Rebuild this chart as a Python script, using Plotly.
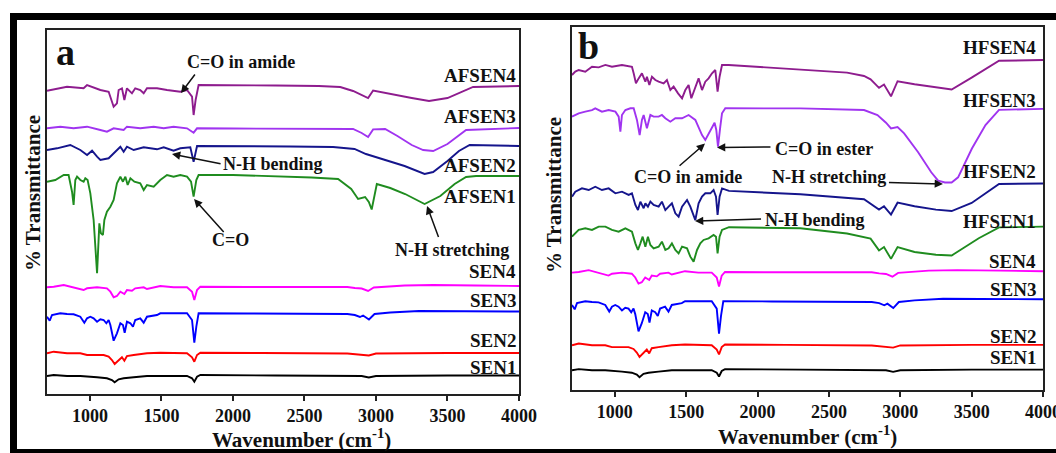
import plotly.graph_objects as go

W, H = 1056, 453

# ---------------- data: panel a (AF series) ----------------
AFSEN4_wn = [700, 840, 956, 980, 1073, 1131, 1166, 1189, 1201, 1224, 1241, 1259, 1294, 1317, 1352, 1376, 1399, 1469, 1539, 1632, 1679, 1714, 1725, 1739, 1760, 2000, 2300, 2600, 2750, 2840, 2900, 2945, 2980, 3100, 3250, 3371, 3500, 3679, 4000]
AFSEN4_t = [303.3, 307.3, 305.7, 309, 304, 302.3, 287.3, 290.7, 304, 305.7, 294, 305.7, 300.7, 305.7, 304, 300.7, 305.7, 305.7, 304, 302.3, 304, 297.3, 279, 294, 309, 309, 308.5, 308, 307, 303, 299, 296, 303.5, 300, 296, 293, 296, 307, 308]

AFSEN3_wn = [700, 793, 886, 980, 1073, 1119, 1166, 1236, 1259, 1352, 1446, 1516, 1585, 1679, 1725, 1749, 2000, 2400, 2750, 2840, 2900, 2945, 2980, 3064, 3150, 3250, 3330, 3400, 3500, 3630, 4000]
AFSEN3_t = [265.7, 267.3, 265.7, 267.3, 264, 262.3, 265.7, 264, 267.3, 265.7, 267.3, 265.7, 267.3, 265.7, 261.3, 265.7, 265.5, 265, 264.5, 265, 261, 257, 264.6, 265, 258, 249, 244, 243, 250, 264, 266]

AFSEN2_wn = [700, 770, 863, 933, 980, 1015, 1050, 1073, 1131, 1189, 1213, 1236, 1259, 1306, 1376, 1469, 1516, 1585, 1632, 1702, 1725, 1749, 2000, 2400, 2700, 2850, 2930, 3000, 3100, 3200, 3340, 3400, 3500, 3580, 3655, 4000]
AFSEN2_t = [244, 245.7, 249, 244, 239, 243.3, 237.3, 234, 235.7, 244, 247.3, 242.3, 247.3, 244, 246.7, 244.7, 246.7, 243.3, 245.7, 246.7, 232.3, 248, 248, 247.5, 247, 245, 240, 237, 233, 228, 220, 222, 233, 243, 249, 248]

AFSEN1_wn = [700, 758, 817, 851, 875, 886, 898, 910, 933, 956, 968, 984, 1003, 1026, 1050, 1066, 1077, 1091, 1101, 1119, 1143, 1166, 1189, 1213, 1231, 1248, 1264, 1283, 1311, 1352, 1376, 1399, 1446, 1492, 1539, 1585, 1632, 1679, 1707, 1725, 1744, 1760, 2000, 2300, 2550, 2735, 2827, 2875, 2924, 2950, 2970, 3006, 3100, 3204, 3340, 3450, 3550, 3630, 3700, 4000]
AFSEN1_t = [212.3, 214, 219, 219, 202.3, 189, 214, 217.3, 214, 212.3, 215.7, 214, 200.7, 174, 120.7, 170.7, 160.7, 159, 174, 182.3, 187.3, 194, 210.7, 217.3, 212.3, 217.3, 209, 215.7, 212.3, 210.7, 204, 209, 207.3, 214, 219, 217.3, 219, 217.3, 212.3, 197.3, 214, 219, 219, 218, 216.5, 215, 205, 195, 197, 192, 184.5, 210, 206, 200, 190, 198, 210, 217, 218, 218]

# ---------------- data: SEN series (shared by both panels) ----------------
SEN4_wn = [700, 747, 817, 886, 956, 980, 1050, 1119, 1143, 1166, 1189, 1213, 1241, 1259, 1294, 1317, 1376, 1399, 1492, 1585, 1679, 1714, 1730, 1749, 1772, 2100, 2500, 2800, 2852, 2900, 2945, 2985, 3200, 3400, 3700, 4000]
SEN4_t = [106.7, 107.3, 109, 106.7, 104, 105.7, 106.7, 105.7, 102.3, 96.7, 98, 102.3, 100, 104, 103.3, 105.7, 106.7, 105, 108, 106.7, 106.7, 102.3, 94, 104, 107.3, 107, 107, 107, 106, 105.5, 103, 106.5, 108.5, 109, 108.5, 108]

SEN3_wn = [700, 719, 735, 793, 840, 886, 933, 961, 980, 1003, 1026, 1050, 1073, 1096, 1115, 1131, 1143, 1166, 1189, 1213, 1231, 1243, 1259, 1283, 1301, 1317, 1352, 1376, 1399, 1469, 1492, 1679, 1714, 1730, 1744, 1760, 2100, 2500, 2800, 2852, 2888, 2910, 2951, 2990, 3100, 3300, 3600, 4000]
SEN3_t = [77.3, 73.3, 79, 80.7, 80, 79.7, 77.3, 71.3, 75.7, 77.3, 75.7, 72.3, 74.7, 74, 70.7, 74, 69, 53.3, 60.7, 70.7, 69, 61.3, 72.3, 70.7, 67.3, 74, 75.7, 71.3, 77.3, 79, 80.7, 80.7, 74, 51.3, 67.3, 80.7, 80.5, 80, 80, 79, 77, 78.5, 74.5, 80, 81.5, 83, 83, 82.5]

SEN2_wn = [700, 747, 840, 933, 980, 1050, 1096, 1131, 1154, 1173, 1201, 1224, 1241, 1259, 1306, 1399, 1492, 1679, 1714, 1730, 1749, 1772, 2200, 2800, 2950, 3000, 3500, 4000]
SEN2_t = [40.7, 42.3, 40.7, 40.7, 39, 39, 39, 37.3, 34, 30, 34, 36.7, 33.3, 38, 39, 40.7, 41.3, 40.7, 36.7, 32.3, 39, 41.3, 41, 40.5, 38.5, 40.5, 41, 41]

SEN1_wn = [700, 747, 840, 933, 1050, 1119, 1154, 1173, 1201, 1236, 1306, 1399, 1516, 1679, 1714, 1730, 1749, 1772, 2300, 2900, 2950, 3000, 3500, 4000]
SEN1_t = [18, 19, 18, 18, 16.7, 15.7, 14, 11.7, 14.7, 15.7, 16.7, 18, 18, 18, 15.7, 12.3, 17.3, 19, 18.5, 18, 16.5, 18, 18.5, 18.5]

# ---------------- data: panel b (HF series) ----------------
HFSEN4_wn = [700, 723, 747, 793, 840, 887, 934, 980, 1050, 1120, 1132, 1148, 1167, 1190, 1214, 1225, 1242, 1260, 1284, 1307, 1342, 1365, 1389, 1412, 1443, 1471, 1494, 1517, 1536, 1564, 1587, 1611, 1634, 1657, 1681, 1704, 1720, 1734, 1751, 1798, 2269, 2627, 2746, 2792, 2851, 2886, 2935, 2981, 3100, 3250, 3360, 3500, 3692, 4000]
HFSEN4_t = [286.4, 289.4, 290.9, 289.4, 293.9, 293.3, 295.5, 293.9, 295.5, 293.9, 287.9, 278.8, 283.3, 287.9, 280.3, 284.8, 277.3, 284.8, 281.8, 280.3, 278.8, 281.8, 272.7, 275.8, 269.7, 265.2, 272.7, 277.3, 265.2, 274.2, 283.3, 272.7, 280.3, 283.3, 287.9, 290.9, 271.2, 284.8, 295.5, 295.5, 291.6, 288.5, 285.5, 282.4, 274.7, 277.7, 267, 280.7, 278, 275, 273.2, 284, 299.3, 300]

HFSEN3_wn = [700, 747, 793, 840, 863, 910, 957, 1004, 1027, 1039, 1050, 1074, 1109, 1132, 1155, 1174, 1190, 1202, 1225, 1249, 1272, 1307, 1330, 1354, 1389, 1424, 1471, 1517, 1564, 1587, 1611, 1634, 1657, 1681, 1699, 1711, 1723, 1739, 1751, 1774, 2300, 2746, 2840, 2900, 2935, 2981, 3027, 3124, 3217, 3265, 3313, 3360, 3405, 3502, 3597, 3692, 4000]
HFSEN3_t = [248.5, 251.5, 253, 254.5, 256.1, 253, 254.5, 253, 248.5, 234.8, 250, 254.5, 256.1, 256.1, 245.5, 231.8, 245.5, 250, 237.9, 250, 248.5, 248.5, 250, 247, 243.9, 247, 247, 250, 245.5, 239.4, 231.8, 227.3, 233.3, 239.4, 243, 236.4, 221.2, 239.4, 251.5, 256.1, 256, 254.5, 250, 243, 237.8, 239, 233.3, 216.4, 197.9, 190.3, 188.7, 188.7, 193.3, 219.5, 240.9, 254.7, 255.6]

HFSEN2_wn = [700, 723, 770, 817, 863, 910, 957, 1004, 1050, 1097, 1120, 1144, 1162, 1179, 1202, 1214, 1232, 1249, 1272, 1307, 1330, 1354, 1377, 1400, 1424, 1447, 1471, 1506, 1529, 1564, 1587, 1611, 1634, 1669, 1692, 1709, 1720, 1734, 1751, 1800, 2300, 2746, 2851, 2886, 2935, 2981, 3100, 3250, 3360, 3500, 3692, 4000]
HFSEN2_t = [175.8, 180.3, 183.3, 181.8, 184.8, 181.8, 183.3, 178.8, 180.3, 177.3, 178.8, 168.2, 163.6, 171.2, 165.2, 169.7, 166.7, 171.2, 168.2, 166.7, 171.2, 163.6, 166.7, 169.7, 160.6, 157.6, 166.7, 172.7, 166.7, 154.5, 169.7, 175.8, 178.8, 178.8, 181.8, 175.8, 159.1, 175.8, 183.3, 181, 178, 173.4, 164, 167, 159.5, 170.3, 167, 164, 162.7, 170, 187.3, 187.7]

HFSEN1_wn = [700, 747, 793, 840, 887, 934, 980, 1027, 1074, 1120, 1144, 1162, 1179, 1195, 1214, 1232, 1249, 1272, 1307, 1330, 1354, 1377, 1400, 1424, 1447, 1471, 1506, 1529, 1552, 1576, 1599, 1622, 1657, 1692, 1709, 1720, 1734, 1751, 1800, 2300, 2627, 2792, 2851, 2886, 2935, 2981, 3100, 3250, 3360, 3450, 3550, 3692, 4000]
HFSEN1_t = [139.4, 145.5, 147, 145.5, 148.5, 148.5, 145.5, 143.9, 147, 143.9, 133.3, 127.3, 133.3, 139.4, 130.3, 139.4, 131.8, 128.8, 130.3, 134.8, 127.3, 128.8, 133.3, 127.3, 124.2, 130.3, 128.8, 121.2, 116.7, 127.3, 133.3, 136.4, 137.9, 140.9, 139.4, 124.2, 139.4, 145.5, 148, 147, 142.3, 137.6, 126.9, 130, 119.2, 130, 125.5, 123, 122.3, 130, 138, 147.8, 148.5]

x_ticks = [1000, 1500, 2000, 2500, 3000, 3500, 4000]

# ---------------- styling ----------------
C4 = "#8E1C8E"
C3 = "#A034F0"
C2 = "#15158C"
C1 = "#1F8C1F"
CS4 = "#FF00FF"
CS3 = "#0000FF"
CS2 = "#FF0000"
CS1 = "#000000"
LW = 1.9
FONT = "Liberation Serif"

def px(x):
    return x / W

def py(y):
    return 1 - y / H

fig = go.Figure()

panel_a = [("AFSEN4", AFSEN4_wn, AFSEN4_t, C4), ("AFSEN3", AFSEN3_wn, AFSEN3_t, C3),
           ("AFSEN2", AFSEN2_wn, AFSEN2_t, C2), ("AFSEN1", AFSEN1_wn, AFSEN1_t, C1),
           ("SEN4", SEN4_wn, SEN4_t, CS4), ("SEN3", SEN3_wn, SEN3_t, CS3),
           ("SEN2", SEN2_wn, SEN2_t, CS2), ("SEN1", SEN1_wn, SEN1_t, CS1)]
panel_b = [("HFSEN4", HFSEN4_wn, HFSEN4_t, C4), ("HFSEN3", HFSEN3_wn, HFSEN3_t, C3),
           ("HFSEN2", HFSEN2_wn, HFSEN2_t, C2), ("HFSEN1", HFSEN1_wn, HFSEN1_t, C1),
           ("SEN4", SEN4_wn, SEN4_t, CS4), ("SEN3", SEN3_wn, SEN3_t, CS3),
           ("SEN2", SEN2_wn, SEN2_t, CS2), ("SEN1", SEN1_wn, SEN1_t, CS1)]

for name, xs, ys, c in panel_a:
    fig.add_trace(go.Scatter(x=xs, y=ys, mode="lines", name=name, line=dict(color=c, width=LW),
                             xaxis="x", yaxis="y", showlegend=False))
for name, xs, ys, c in panel_b:
    fig.add_trace(go.Scatter(x=xs, y=ys, mode="lines", name=name, line=dict(color=c, width=LW),
                             xaxis="x2", yaxis="y2", showlegend=False))

axis_common = dict(showline=True, linecolor="#222", linewidth=1.5, mirror=True,
                   showgrid=False, zeroline=False, automargin=False)
xcommon = dict(axis_common, range=[700, 4000], tickvals=x_ticks, ticks="outside", ticklen=5,
               tickwidth=1.5, tickcolor="#222", ticklabeloverflow="allow",
               tickfont=dict(family=FONT, size=18, color="#111", weight="bold"))
ycommon = dict(axis_common, showticklabels=False, ticks="")

fig.update_layout(
    template="none",
    width=W, height=H, margin=dict(l=0, r=0, t=0, b=0, autoexpand=False),
    paper_bgcolor="white", plot_bgcolor="white",
    xaxis=dict(xcommon, domain=[px(47), px(519)], anchor="y"),
    yaxis=dict(ycommon, domain=[py(394), py(30)], range=[0, 364], anchor="x"),
    xaxis2=dict(xcommon, domain=[px(572), px(1043)], anchor="y2"),
    yaxis2=dict(ycommon, domain=[py(390), py(27)], range=[0, 330], anchor="x2"),
)

ann = []
bold = lambda s: dict(family=FONT, size=s, color="#111", weight="bold")

# trace labels
labels_a = [("AFSEN4", 319), ("AFSEN3", 277.5), ("AFSEN2", 228.5), ("AFSEN1", 198),
            ("SEN4", 123), ("SEN3", 94), ("SEN2", 54), ("SEN1", 27)]
for t, yv in labels_a:
    ann.append(dict(x=3990, y=yv, xref="x", yref="y", text=t, showarrow=False,
                    xanchor="right", yanchor="middle", font=bold(19)))
labels_b = [("HFSEN4", 311.8), ("HFSEN3", 263.6), ("HFSEN2", 198.2), ("HFSEN1", 153.6),
            ("SEN4", 116.4), ("SEN3", 91.8), ("SEN2", 48.6), ("SEN1", 30)]
for t, yv in labels_b:
    ann.append(dict(x=3967, y=yv, xref="x2", yref="y2", text=t, showarrow=False,
                    xanchor="right", yanchor="middle", font=bold(19)))

# arrows: (xref, yref, head_x, head_y, tail_x, tail_y)
arrows = [("x", "y", 1637, 301, 1742, 321),
          ("x", "y", 1574, 240, 1924, 230),
          ("x", "y", 1728, 195, 1945, 160.5),
          ("x", "y", 3357, 188, 3441, 155.4),
          ("x2", "y2", 1716, 220.4, 2101, 220.9),
          ("x2", "y2", 1632, 224, 1443, 202.7),
          ("x2", "y2", 3299, 187.3, 2910, 188.7),
          ("x2", "y2", 1562, 153.6, 2035, 155.5)]
for xr, yr, hx, hy, tx, ty in arrows:
    ann.append(dict(x=hx, y=hy, ax=tx, ay=ty, xref=xr, yref=yr, axref=xr, ayref=yr,
                    text="", showarrow=True, arrowhead=2, arrowsize=1.1, arrowwidth=1.5,
                    arrowcolor="#111"))

# annotation texts
texts = [("x", "y", 2057, 332, "C=O in amide"),
         ("x", "y", 2280, 230, "N-H bending"),
         ("x", "y", 1980, 154, "C=O"),
         ("x", "y", 3532, 144, "N-H stretching"),
         ("x2", "y2", 2466, 219, "C=O in ester"),
         ("x2", "y2", 1513, 193.6, "C=O in amide"),
         ("x2", "y2", 2504, 193.6, "N-H stretching"),
         ("x2", "y2", 2402, 155, "N-H bending")]
for xr, yr, xv, yv, t in texts:
    ann.append(dict(x=xv, y=yv, xref=xr, yref=yr, text=t, showarrow=False,
                    xanchor="center", yanchor="middle", font=bold(18)))

# panel letters
ann.append(dict(x=px(65), y=py(52), xref="paper", yref="paper", text="a", showarrow=False,
                xanchor="center", yanchor="middle", font=bold(38)))
ann.append(dict(x=px(588), y=py(46), xref="paper", yref="paper", text="b", showarrow=False,
                xanchor="center", yanchor="middle", font=bold(38)))

# axis titles
for xc, yc in [(33, 193), (554, 195)]:
    ann.append(dict(x=px(xc), y=py(yc), xref="paper", yref="paper", text="% Transmittance",
                    textangle=-90, showarrow=False, xanchor="center", yanchor="middle",
                    font=bold(21)))
for xc, yc in [(301, 438), (807, 435)]:
    ann.append(dict(x=px(xc), y=py(yc), xref="paper", yref="paper",
                    text="Wavenumber (cm<sup>-1</sup>)", showarrow=False,
                    xanchor="center", yanchor="middle", font=bold(21)))

fig.update_layout(annotations=ann)

# outer black frame
frame = [(10, 13, 1056, 20), (10, 13, 17, 453), (10, 449, 1056, 453)]
for x0, y0, x1, y1 in frame:
    fig.add_shape(type="rect", xref="paper", yref="paper", x0=px(x0), x1=px(x1),
                  y0=py(y1), y1=py(y0), fillcolor="black", line=dict(width=0))

fig.write_html("out.html")
